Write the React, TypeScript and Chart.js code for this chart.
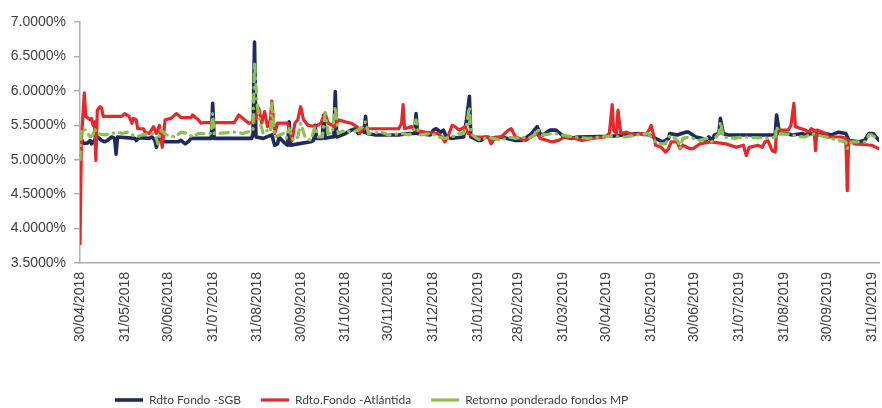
import React, { useEffect, useRef } from "react";
import { Chart, registerables } from "chart.js";

Chart.register(...registerables);

// x values are days elapsed since 30/04/2018
const monthEndLabels = [
  "30/04/2018", "31/05/2018", "30/06/2018", "31/07/2018", "31/08/2018", "30/09/2018",
  "31/10/2018", "30/11/2018", "31/12/2018", "31/01/2019", "28/02/2019", "31/03/2019",
  "30/04/2019", "31/05/2019", "30/06/2019", "31/07/2019", "31/08/2019", "30/09/2019",
  "31/10/2019",
];

const seriesNames = ["Rdto Fondo -SGB", "Rdto.Fondo -Atlántida", "Retorno ponderado fondos MP"];

const sgbDays = [
  0, 2, 5, 7, 8, 10, 12, 15, 17, 19, 22, 24, 25, 26, 38, 39, 41, 48, 50, 52, 53, 55, 57, 68, 70, 73, 75, 77,
  91, 92, 93, 119, 120, 121, 122, 127, 133, 135, 137, 138, 141, 144, 145, 146, 151, 160, 162, 163, 164, 168,
  169, 170, 174, 176, 177, 178, 184, 188, 191, 193, 195, 197, 198, 199, 205, 221, 228, 232, 233, 234, 243,
  245, 247, 250, 252, 254, 257, 266, 268, 270, 271, 276, 278, 281, 288, 292, 302, 306, 310, 313, 317, 319,
  321, 326, 330, 333, 336, 341, 345, 369, 387, 395, 399, 404, 406, 408, 409, 414, 420, 422, 427, 431, 434,
  436, 438, 440, 443, 444, 446, 449, 482, 483, 485, 489, 494, 501, 503, 507, 512, 517, 521, 526, 531, 533,
  540, 544, 547, 550, 554,
];
const sgbRates = [
  5.36, 5.24, 5.24, 5.28, 5.23, 5.28, 5.33, 5.28, 5.26, 5.28, 5.33, 5.31, 5.08, 5.33, 5.31, 5.28, 5.32, 5.31,
  5.33, 5.28, 5.18, 5.33, 5.26, 5.26, 5.28, 5.23, 5.26, 5.31, 5.31, 5.82, 5.31, 5.31, 5.38, 6.71, 5.33, 5.31,
  5.36, 5.21, 5.23, 5.33, 5.26, 5.21, 5.55, 5.21, 5.23, 5.26, 5.28, 5.5, 5.31, 5.31, 5.65, 5.31, 5.33, 5.33,
  5.99, 5.33, 5.38, 5.43, 5.45, 5.38, 5.43, 5.4, 5.63, 5.38, 5.36, 5.36, 5.38, 5.38, 5.67, 5.38, 5.36, 5.43,
  5.45, 5.4, 5.43, 5.33, 5.31, 5.33, 5.58, 5.92, 5.33, 5.28, 5.28, 5.33, 5.31, 5.33, 5.28, 5.28, 5.33, 5.38,
  5.48, 5.38, 5.36, 5.43, 5.43, 5.38, 5.33, 5.31, 5.33, 5.34, 5.38, 5.36, 5.31, 5.26, 5.28, 5.31, 5.38, 5.36,
  5.4, 5.4, 5.33, 5.31, 5.28, 5.33, 5.28, 5.36, 5.38, 5.6, 5.38, 5.36, 5.36, 5.65, 5.38, 5.38, 5.36, 5.38,
  5.36, 5.38, 5.36, 5.38, 5.36, 5.4, 5.38, 5.28, 5.26, 5.28, 5.38, 5.38, 5.28,
];

const atlDays = [
  0, 1, 3, 4, 7, 8, 9, 10, 11, 12, 14, 15, 16, 29, 31, 34, 36, 37, 39, 40, 44, 45, 48, 51, 53, 55, 57, 59, 63,
  67, 70, 77, 78, 82, 84, 86, 107, 110, 113, 117, 121, 124, 126, 128, 130, 132, 133, 135, 137, 144, 147, 149,
  151, 153, 155, 158, 163, 167, 170, 172, 177, 179, 184, 188, 192, 194, 196, 221, 223, 224, 225, 230, 232,
  239, 248, 251, 253, 255, 258, 260, 263, 267, 269, 274, 283, 285, 288, 292, 297, 299, 302, 309, 313, 317,
  319, 327, 332, 336, 343, 348, 355, 364, 367, 369, 370, 372, 373, 375, 379, 384, 388, 391, 393, 395, 396,
  398, 399, 403, 406, 408, 410, 414, 416, 418, 423, 425, 430, 437, 448, 455, 460, 462, 464, 470, 473, 475,
  477, 480, 482, 483, 491, 493, 495, 496, 503, 505, 507, 509, 510, 511, 517, 519, 528, 531, 532, 533, 537,
  549, 554,
];
const atlRates = [
  3.78, 5.3, 5.97, 5.63, 5.58, 5.6, 5.5, 5.55, 4.99, 5.72, 5.77, 5.75, 5.63, 5.63, 5.67, 5.63, 5.53, 5.6, 5.58,
  5.45, 5.45, 5.4, 5.38, 5.48, 5.38, 5.5, 5.18, 5.58, 5.6, 5.67, 5.61, 5.61, 5.65, 5.58, 5.53, 5.54, 5.54,
  5.65, 5.6, 5.53, 5.55, 5.75, 5.53, 5.7, 5.48, 5.58, 5.85, 5.38, 5.53, 5.53, 5.28, 5.53, 5.58, 5.77, 5.58,
  5.5, 5.48, 5.53, 5.68, 5.53, 5.48, 5.58, 5.55, 5.53, 5.48, 5.38, 5.45, 5.45, 5.53, 5.8, 5.45, 5.48, 5.43,
  5.4, 5.38, 5.33, 5.26, 5.33, 5.5, 5.48, 5.43, 5.48, 5.38, 5.33, 5.33, 5.23, 5.33, 5.33, 5.43, 5.45, 5.33,
  5.28, 5.33, 5.38, 5.31, 5.26, 5.28, 5.33, 5.31, 5.28, 5.31, 5.33, 5.38, 5.8, 5.43, 5.38, 5.72, 5.38, 5.4,
  5.36, 5.38, 5.36, 5.38, 5.45, 5.5, 5.33, 5.21, 5.18, 5.11, 5.16, 5.26, 5.26, 5.16, 5.21, 5.16, 5.16, 5.23,
  5.26, 5.23, 5.18, 5.21, 5.06, 5.18, 5.21, 5.18, 5.26, 5.28, 5.13, 5.11, 5.43, 5.43, 5.5, 5.82, 5.48, 5.43,
  5.4, 5.45, 5.43, 5.13, 5.43, 5.38, 5.33, 5.33, 5.31, 4.55, 5.28, 5.23, 5.21, 5.16,
];

const mpDays = [
  0, 1, 4, 7, 9, 10, 12, 17, 22, 26, 29, 33, 39, 43, 51, 53, 54, 56, 60, 66, 70, 75, 78, 82, 91, 92, 93, 107,
  113, 120, 121, 123, 125, 127, 129, 132, 133, 135, 141, 143, 145, 148, 151, 153, 156, 160, 163, 165, 168,
  170, 172, 175, 177, 179, 184, 188, 193, 196, 198, 200, 209, 214, 223, 228, 231, 233, 235, 244, 248, 253,
  258, 262, 266, 268, 270, 271, 275, 278, 283, 292, 297, 302, 306, 311, 315, 317, 320, 329, 334, 343, 352,
  366, 378, 387, 394, 398, 400, 406, 408, 410, 415, 416, 418, 422, 429, 435, 438, 443, 444, 446, 454, 459,
  477, 482, 483, 485, 494, 498, 503, 507, 517, 526, 531, 532, 535, 544, 547, 549, 554,
];
const mpRates = [
  5.0, 5.45, 5.43, 5.33, 5.36, 5.45, 5.38, 5.36, 5.38, 5.4, 5.38, 5.4, 5.33, 5.36, 5.38, 5.31, 5.23, 5.43,
  5.36, 5.33, 5.4, 5.38, 5.33, 5.38, 5.38, 5.67, 5.38, 5.4, 5.38, 5.43, 6.41, 5.77, 5.53, 5.38, 5.43, 5.4,
  5.82, 5.33, 5.38, 5.31, 5.45, 5.28, 5.33, 5.53, 5.33, 5.28, 5.48, 5.33, 5.33, 5.67, 5.38, 5.4, 5.77, 5.38,
  5.43, 5.4, 5.43, 5.48, 5.55, 5.38, 5.4, 5.36, 5.38, 5.36, 5.4, 5.58, 5.36, 5.38, 5.33, 5.31, 5.33, 5.38,
  5.38, 5.5, 5.77, 5.38, 5.31, 5.28, 5.33, 5.28, 5.33, 5.31, 5.33, 5.31, 5.36, 5.45, 5.36, 5.38, 5.36, 5.33,
  5.31, 5.34, 5.33, 5.36, 5.38, 5.28, 5.23, 5.23, 5.33, 5.36, 5.26, 5.16, 5.31, 5.33, 5.28, 5.31, 5.26, 5.38,
  5.55, 5.33, 5.31, 5.33, 5.31, 5.33, 5.48, 5.38, 5.36, 5.33, 5.33, 5.38, 5.33, 5.28, 5.26, 5.16, 5.26, 5.26,
  5.36, 5.36, 5.28,
];

const NAVY = "#1e2b5c";
const RED = "#e4282b";
const GREEN = "#8cc152";
const AXIS = "#b0b0b0";
const TEXT = "#404040";

function dayIndex(label: string): number {
  const [d, m, y] = label.split("/").map(Number);
  return Math.round((Date.UTC(y, m - 1, d) - Date.UTC(2018, 3, 30)) / 86400000);
}

function points(xs: number[], ys: number[]) {
  return xs.map((x, i) => ({ x, y: ys[i] }));
}

export default function App() {
  const ref = useRef<HTMLCanvasElement | null>(null);

  useEffect(() => {
    document.body.style.margin = "0";
    const canvas = ref.current;
    if (!canvas) return;
    const tickDays = monthEndLabels.map(dayIndex);

    const legendPlacer = {
      id: "legendPlacer",
      afterLayout(chart: any) {
        const lg = chart.legend;
        if (!lg) return;
        const pad = lg.options.labels.padding;
        const h = lg.bottom - lg.top;
        const w = lg.right - lg.left;
        lg.left = 115 - pad;
        lg.right = lg.left + w;
        lg.top = 400 - pad - 6;
        lg.bottom = lg.top + h;
      },
    };

    const chart = new Chart(canvas, {
      type: "line",
      data: {
        datasets: [
          {
            label: seriesNames[0],
            data: points(sgbDays, sgbRates),
            borderColor: NAVY,
            backgroundColor: NAVY,
            borderWidth: 3.6,
            pointRadius: 0,
            tension: 0,
            borderJoinStyle: "round",
            borderCapStyle: "round",
            order: 3,
          },
          {
            label: seriesNames[1],
            data: points(atlDays, atlRates),
            borderColor: RED,
            backgroundColor: RED,
            borderWidth: 3.2,
            pointRadius: 0,
            tension: 0,
            borderJoinStyle: "round",
            borderCapStyle: "round",
            order: 2,
          },
          {
            label: seriesNames[2],
            data: points(mpDays, mpRates),
            borderColor: GREEN,
            backgroundColor: GREEN,
            borderWidth: 3.2,
            borderDash: [8, 6, 0.5, 6],
            pointRadius: 0,
            tension: 0,
            borderJoinStyle: "round",
            borderCapStyle: "round",
            order: 1,
          },
        ],
      },
      options: {
        animation: false,
        responsive: true,
        maintainAspectRatio: false,
        layout: { padding: { top: 22, right: 3, left: 0, bottom: 0 } },
        plugins: {
          tooltip: { enabled: false },
          legend: {
            position: "bottom",
            align: "start",
            labels: {
              usePointStyle: true,
              pointStyle: "line",
              pointStyleWidth: 28,
              padding: 20,
              color: TEXT,
              font: { family: "Lato", size: 12 },
              sort: (a: any, b: any) => a.datasetIndex - b.datasetIndex,
            },
          },
        },
        scales: {
          x: {
            type: "linear",
            min: 0,
            max: 554,
            afterBuildTicks: (scale: any) => {
              scale.ticks = tickDays.map((v) => ({ value: v }));
            },
            afterFit: (scale: any) => {
              scale.height = 103;
              scale.paddingRight = 0;
              scale.paddingLeft = 0;
            },
            ticks: {
              autoSkip: false,
              minRotation: 90,
              maxRotation: 90,
              padding: 9,
              color: TEXT,
              font: { family: "'Liberation Sans'", size: 14 },
              callback: (value: any) => {
                const i = tickDays.indexOf(Number(value));
                return i >= 0 ? monthEndLabels[i] : "";
              },
            },
            grid: { display: true, drawOnChartArea: false, drawTicks: false },
            border: { display: true, color: AXIS, width: 1.5 },
          },
          y: {
            min: 3.5,
            max: 7,
            afterFit: (scale: any) => {
              scale.width = 80;
            },
            ticks: {
              stepSize: 0.5,
              padding: 8,
              color: TEXT,
              font: { family: "'Liberation Sans'", size: 14 },
              callback: (value: any) => Number(value).toFixed(4) + "%",
            },
            grid: { display: true, drawOnChartArea: false, drawTicks: true, tickLength: 6, color: AXIS, lineWidth: 1.5 },
            border: { display: true, color: AXIS, width: 1.5 },
          },
        },
      },
      plugins: [legendPlacer],
    } as any);

    return () => chart.destroy();
  }, []);

  return (
    <div style={{ width: 882, height: 408, position: "relative" }}>
      <canvas ref={ref} />
    </div>
  );
}
